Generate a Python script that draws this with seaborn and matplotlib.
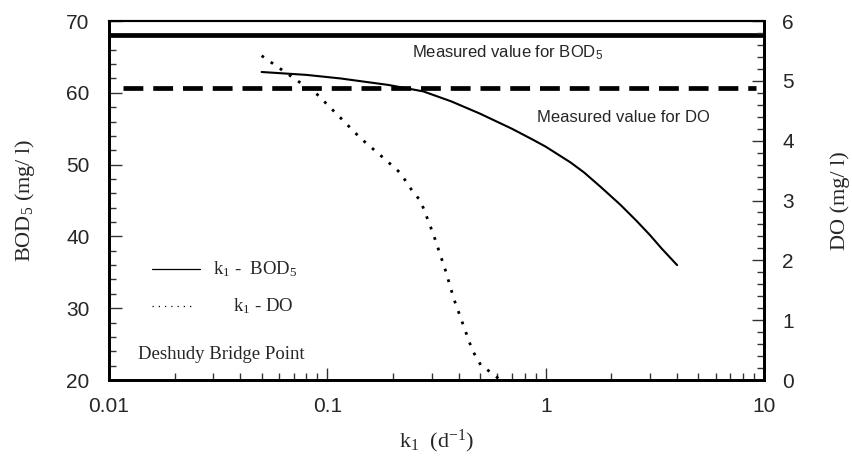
import numpy as np
import pandas as pd
import matplotlib
matplotlib.use("Agg")
import matplotlib.pyplot as plt
import seaborn as sns
from matplotlib.ticker import MultipleLocator, LogLocator, FixedLocator, NullFormatter

# k1 sweep (1/day) and the modelled BOD5 response (mg/l)
k1_bod = [0.05, 0.08, 0.115, 0.19, 0.275, 0.37, 0.5, 0.7, 0.87, 1.0, 1.3, 1.5,
          1.8, 2.2, 2.6, 3.0, 3.4, 4.0]
bod5 = [62.9, 62.5, 62.0, 61.1, 60.2, 58.8, 57.1, 55.0, 53.5, 52.5, 50.3, 48.9,
        46.8, 44.4, 42.2, 40.2, 38.3, 36.0]

# k1 sweep (1/day) and the modelled dissolved oxygen (mg/l)
k1_do = [0.05, 0.065, 0.09, 0.115, 0.142, 0.181, 0.216, 0.249, 0.267, 0.307,
         0.347, 0.381, 0.422, 0.461, 0.504, 0.569, 0.62]
do = [5.42, 5.13, 4.77, 4.38, 4.04, 3.71, 3.46, 3.12, 3.0, 2.42,
      1.84, 1.34, 0.89, 0.50, 0.25, 0.11, 0.0]

# field measurements at the station
measured_bod5 = 68.0
measured_do = 4.88

x_ticks = [0.01, 0.1, 1, 10]
x_tick_labels = ["0.01", "0.1", "1", "10"]

sns.set_theme(style="white")
plt.rcParams["font.family"] = ["Liberation Sans", "DejaVu Sans"]
plt.rcParams["mathtext.default"] = "regular"

SERIF = ["Liberation Serif", "DejaVu Serif"]

fig, ax = plt.subplots(figsize=(8.53, 4.61), dpi=100)
fig.subplots_adjust(left=0.1278, right=0.8957, bottom=0.1757, top=0.9544)
ax2 = ax.twinx()

bod_df = pd.DataFrame({"k1": k1_bod, "BOD5": bod5})
do_df = pd.DataFrame({"k1": k1_do, "DO": do})

sns.lineplot(data=bod_df, x="k1", y="BOD5", ax=ax, color="black", lw=1.5,
             sort=True, legend=False)
sns.lineplot(data=do_df, x="k1", y="DO", ax=ax2, color="black", lw=2.0,
             linestyle=(0, (1, 3)), sort=True, legend=False)

ax.axhline(measured_bod5, color="black", lw=3.4, solid_capstyle="butt")
ax2.axhline(measured_do, xmin=0.021, xmax=0.988, color="black", lw=3.4,
            linestyle=(0, (4.2, 2.1)), dash_capstyle="butt")

ax.set_xscale("log")
ax.set_xlim(0.01, 10)
ax.set_ylim(20, 70)
ax2.set_ylim(0, 6)

ax.xaxis.set_major_locator(FixedLocator(x_ticks))
ax.set_xticklabels(x_tick_labels)
ax.xaxis.set_minor_locator(LogLocator(base=10, subs=np.arange(2, 10)))
ax.xaxis.set_minor_formatter(NullFormatter())
ax.yaxis.set_major_locator(MultipleLocator(10))
ax.yaxis.set_minor_locator(MultipleLocator(2))
ax2.yaxis.set_major_locator(MultipleLocator(1))
ax2.yaxis.set_minor_locator(MultipleLocator(0.2))

for a in (ax, ax2):
    a.tick_params(which="major", direction="in", length=9, width=1,
                  color="#333333", labelsize=15)
    a.tick_params(which="minor", direction="in", length=5, width=1,
                  color="#333333")
ax.tick_params(axis="x", which="both", bottom=True, top=False, pad=12)
ax.tick_params(axis="y", which="both", left=True, right=False, pad=14)
ax2.tick_params(axis="y", which="both", right=True, left=False, pad=13)

for a in (ax, ax2):
    for side in ("left", "right", "bottom"):
        a.spines[side].set_linewidth(2.0)
        a.spines[side].set_color("black")
    a.spines["top"].set_linewidth(1.5)
    a.spines["top"].set_color("black")

ax.set_xlabel(r"$k_1$  ($d^{-1}$)", family=SERIF, fontsize=16, labelpad=9)
ax.set_ylabel(r"$BOD_5$ (mg/ l)", family=SERIF, fontsize=16, labelpad=21)
ax2.set_ylabel("DO (mg/ l)", family=SERIF, fontsize=16, labelpad=26)

ax.text(0.463, 0.912, r"Measured value for $BOD_5$", transform=ax.transAxes,
        ha="left", va="center", fontsize=12)
ax.text(0.653, 0.730, "Measured value for DO", transform=ax.transAxes,
        ha="left", va="center", fontsize=12)

# key drawn inside the plot area
ax.plot([0.066, 0.139], [0.309, 0.309], transform=ax.transAxes,
        color="black", lw=0.9)
ax.text(0.159, 0.309, r"$k_1$ -  $BOD_5$", transform=ax.transAxes,
        ha="left", va="center", family=SERIF, fontsize=13.5)
ax.plot([0.066, 0.128], [0.206, 0.206], transform=ax.transAxes,
        color="black", lw=0.9, linestyle=(0, (1, 4)))
ax.text(0.189, 0.206, r"$k_1$ - DO", transform=ax.transAxes,
        ha="left", va="center", family=SERIF, fontsize=13.5)
ax.text(0.044, 0.070, "Deshudy Bridge Point", transform=ax.transAxes,
        ha="left", va="center", family=SERIF, fontsize=13.5)

for lbl in ax.get_xticklabels() + ax.get_yticklabels() + ax2.get_yticklabels():
    lbl.set_family(["Liberation Sans", "DejaVu Sans"])

fig.savefig("out.png", dpi=100)
